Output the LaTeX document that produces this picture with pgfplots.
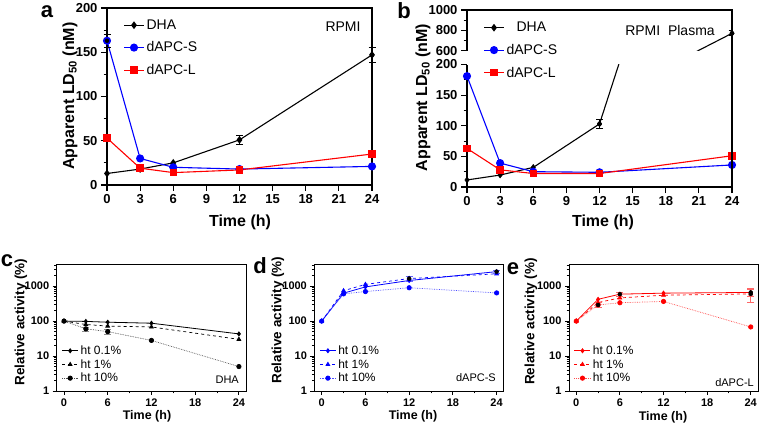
\documentclass[border=0pt]{standalone}
\usepackage{fontspec}
\setmainfont{Liberation Sans}
\usepackage{pgfplots}
\pgfplotsset{compat=1.18}

\pgfplotsset{
  base/.style={
    scale only axis, anchor=south west,
    tick align=outside, tick pos=left,
    axis line style={line width=1.1pt, -},
    every tick/.style={black, line width=1.1pt},
    major tick length=6pt, minor tick length=3.5pt,
    /pgf/number format/assume math mode=true,
    ticklabel style={font=\bfseries\fontsize{13}{13}\selectfont},
    legend cell align=left,
  },
  upperpanel/.style={
    base,
    legend style={draw=none, fill=none, font=\fontsize{14}{14}\selectfont, row sep=7pt},
    legend image code/.code={\draw[mark repeat=2,mark phase=2] plot coordinates {(0pt,0pt) (10pt,0pt) (20pt,0pt)};},
  },
  lowerpanel/.style={
    base, xmin=-1, xmax=25, ymin=1, ymax=4300,
    width=189.5pt, height=127pt, clip=false,
    axis line style={line width=0.9pt},
    every tick/.style={black, line width=0.9pt},
    major tick length=4pt, minor tick length=2.5pt,
    xtick={0,6,...,24}, minor xtick={3,9,15,21},
    ytick={1,10,100,1000}, yticklabels={1,10,100,1000},
    minor ytick={2,3,4,5,6,7,8,9,20,30,40,50,60,70,80,90,200,300,400,500,600,700,800,900,2000,3000,4000},
    ticklabel style={font=\bfseries\fontsize{11}{11}\selectfont},
    legend style={at={(0.01,0.39)}, anchor=north west, draw=none, fill=none,
      font=\fontsize{12}{12}\selectfont, row sep=-0.5pt},
    legend image code/.code={\draw[mark repeat=2,mark phase=2] plot coordinates {(0pt,0pt) (8pt,0pt) (16pt,0pt)};},
  },
  ebar/.style={only marks, mark=none, forget plot,
    error bars/.cd, y dir=both, y explicit,
    error bar style={line width=0.8pt, solid, #1},
    error mark options={rotate=90, mark size=3.5pt, line width=0.8pt, solid, #1}},
}

\begin{document}
\begin{tikzpicture}
\path[use as bounding box] (0pt,0pt) rectangle (760pt,426pt);

% ---- panel a
\begin{axis}[upperpanel, at={(107pt,241pt)}, width=265pt, height=177pt,
  xmin=0, xmax=24, ymin=0, ymax=200, clip=false,
  xtick={0,3,...,24}, ytick={0,50,...,200}, minor y tick num=1,
  legend style={at={(0.05,0.958)}, anchor=north west}]
\addplot[black, line width=1.1pt, mark=diamond*, mark size=3pt]
  coordinates {(0,13) (3,18) (6,25) (12,51) (24,147)};
\addlegendentry{DHA}
\addplot[blue, line width=1.1pt, mark=*, mark size=3.5pt]
  coordinates {(0,163) (3,30) (6,20) (12,18) (24,21)};
\addlegendentry{dAPC-S}
\addplot[red, line width=1.1pt, mark=square*, mark size=3.2pt]
  coordinates {(0,53) (3,19) (6,14) (12,17) (24,35)};
\addlegendentry{dAPC-L}
\addplot[ebar=black] coordinates {(12,51) +- (0,5) (24,147) +- (0,8)};
\addplot[ebar=black] coordinates {(0,163) +- (0,7)};
\end{axis}

% ---- panel b, upper part of the broken axis
\begin{axis}[base, at={(467pt,375.3pt)}, width=265pt, height=40.7pt,
  xmin=0, xmax=24, ymin=600, ymax=1000,
  hide x axis, axis y line*=left,
  ytick={600,800,1000}, yticklabels={600,800,1000}, minor y tick num=1]
\addplot[black, line width=1.1pt, mark=none] coordinates {(12,103) (24,771)};
\addplot[black, only marks, mark=diamond*, mark size=3pt] coordinates {(24,771)};
\addplot[ebar=black] coordinates {(24,771) +- (0,25)};
\end{axis}

% ---- panel b, lower part
\begin{axis}[upperpanel, at={(467pt,239pt)}, width=265pt, height=122.5pt,
  xmin=0, xmax=24, ymin=0, ymax=200,
  axis x line*=bottom, axis y line*=left,
  xtick={0,3,...,24}, ytick={0,50,...,200}, minor y tick num=1,
  legend style={at={(0.05,1.38)}, anchor=north west}]
\addlegendimage{black, line width=1.1pt, mark=diamond*, mark size=3pt}
\addlegendentry{\hspace{10pt}DHA}
\addlegendimage{blue, line width=1.1pt, mark=*, mark size=3.5pt}
\addlegendentry{dAPC-S}
\addlegendimage{red, line width=1.1pt, mark=square*, mark size=3.2pt}
\addlegendentry{dAPC-L}
\addplot[black, line width=1.1pt, mark=none, forget plot]
  coordinates {(0,11.5) (3,19.5) (6,32) (12,103) (24,771)};
\addplot[black, only marks, mark=diamond*, mark size=3pt, forget plot]
  coordinates {(0,11.5) (3,19.5) (6,32) (12,103)};
\addplot[blue, line width=1.1pt, mark=*, mark size=3.5pt, forget plot]
  coordinates {(0,181) (3,39) (6,25) (12,24) (24,36)};
\addplot[red, line width=1.1pt, mark=square*, mark size=3.2pt, forget plot]
  coordinates {(0,63) (3,28) (6,22) (12,22) (24,51)};
\addplot[ebar=black] coordinates {(12,103) +- (0,7)};
\end{axis}
% frame of the broken axis: top edge and the unbroken right edge
\draw[line width=1.1pt] (467pt,416pt) -- (732pt,416pt) -- (732pt,239pt);

% ---- panel c
\begin{axis}[lowerpanel, ymode=log, at={(56.7pt,35pt)}]
\addplot[black, line width=0.8pt, mark=diamond*, mark size=2pt]
  coordinates {(0,100) (3,98) (6,93) (12,87) (24,43)};
\addlegendentry{ht 0.1\%}
\addplot[black, line width=0.7pt, dashed, mark=triangle*, mark size=2.2pt, mark options={solid}]
  coordinates {(0,100) (3,80) (6,72) (12,68) (24,30)};
\addlegendentry{ht 1\%}
\addplot[black!70, line width=0.7pt, densely dotted, mark=*, mark size=2.2pt, mark options={solid, black}]
  coordinates {(0,100) (3,60) (6,50) (12,28) (24,5)};
\addlegendentry{ht 10\%}
\addplot[ebar=black!45] coordinates {(3,60) +- (0,8) (6,50) +- (0,7)};
\end{axis}

% ---- panel d
\begin{axis}[lowerpanel, ymode=log, at={(314.4pt,35pt)}]
\addplot[blue, line width=0.8pt, mark=diamond*, mark size=2pt]
  coordinates {(0,100) (3,630) (6,950) (12,1450) (24,2600)};
\addlegendentry{ht 0.1\%}
\addplot[blue, line width=0.7pt, dashed, mark=triangle*, mark size=2.2pt, mark options={solid}]
  coordinates {(0,100) (3,740) (6,1120) (12,1650) (24,2250)};
\addlegendentry{ht 1\%}
\addplot[blue!70, line width=0.7pt, densely dotted, mark=*, mark size=2.2pt, mark options={solid, blue}]
  coordinates {(0,100) (3,600) (6,700) (12,900) (24,640)};
\addlegendentry{ht 10\%}
\addplot[ebar=blue!60] coordinates {(12,1650) +- (0,300) (24,2600) +- (0,250)};
\end{axis}

% ---- panel e
\begin{axis}[lowerpanel, ymode=log, at={(569pt,35pt)}, width=189pt]
\addplot[red, line width=0.8pt, mark=diamond*, mark size=2pt]
  coordinates {(0,100) (3,420) (6,590) (12,630) (24,660)};
\addlegendentry{ht 0.1\%}
\addplot[red, line width=0.7pt, dashed, mark=triangle*, mark size=2.2pt, mark options={solid}]
  coordinates {(0,100) (3,340) (6,460) (12,550) (24,600)};
\addlegendentry{ht 1\%}
\addplot[red!70, line width=0.7pt, densely dotted, mark=*, mark size=2.2pt, mark options={solid, red}]
  coordinates {(0,100) (3,290) (6,335) (12,365) (24,68)};
\addlegendentry{ht 10\%}
\addplot[ebar=red!60] coordinates {(24,600) +- (0,250) (24,660) +- (0,150) (3,290) +- (0,50) (6,590) +- (0,80)};
\end{axis}

% ---- titles, axis labels and panel letters
\begin{scope}[every node/.style={inner sep=0pt}]
\node[font=\bfseries\fontsize{16}{16}\selectfont, rotate=90] at (70pt,330pt) {Apparent LD\textsubscript{50} (nM)};
\node[font=\bfseries\fontsize{16}{16}\selectfont, rotate=90] at (423pt,328.5pt) {Apparent LD\textsubscript{50} (nM)};
\node[font=\bfseries\fontsize{16}{16}\selectfont] at (240pt,204pt) {Time (h)};
\node[font=\bfseries\fontsize{16}{16}\selectfont] at (603pt,204pt) {Time (h)};
\node[font=\fontsize{14}{14}\selectfont] at (343pt,399pt) {RPMI};
\node[font=\fontsize{14}{14}\selectfont] at (670pt,396pt) {RPMI\ \ Plasma};

\node[font=\bfseries\fontsize{13.5}{13.5}\selectfont, rotate=90] at (21pt,104pt) {Relative activity (\%)};
\node[font=\bfseries\fontsize{13.5}{13.5}\selectfont, rotate=90] at (278pt,106pt) {Relative activity (\%)};
\node[font=\bfseries\fontsize{13.5}{13.5}\selectfont, rotate=90] at (531pt,104.5pt) {Relative activity (\%)};
\node[font=\bfseries\fontsize{12.5}{12.5}\selectfont] at (147pt,10pt) {Time (h)};
\node[font=\bfseries\fontsize{12.5}{12.5}\selectfont] at (413pt,10pt) {Time (h)};
\node[font=\bfseries\fontsize{12.5}{12.5}\selectfont] at (663pt,9pt) {Time (h)};
\node[font=\fontsize{11}{11}\selectfont, anchor=east] at (239pt,46.7pt) {DHA};
\node[font=\fontsize{11}{11}\selectfont, anchor=east] at (496pt,48pt) {dAPC-S};
\node[font=\fontsize{11}{11}\selectfont, anchor=east] at (754pt,43pt) {dAPC-L};

\node[font=\bfseries\fontsize{22}{22}\selectfont, anchor=base] at (47pt,408pt) {a};
\node[font=\bfseries\fontsize{22}{22}\selectfont, anchor=base] at (404pt,407pt) {b};
\node[font=\bfseries\fontsize{22}{22}\selectfont, anchor=base] at (7pt,159pt) {c};
\node[font=\bfseries\fontsize{22}{22}\selectfont, anchor=base] at (260pt,153pt) {d};
\node[font=\bfseries\fontsize{22}{22}\selectfont, anchor=base] at (513pt,151pt) {e};
\end{scope}
\end{tikzpicture}
\end{document}
